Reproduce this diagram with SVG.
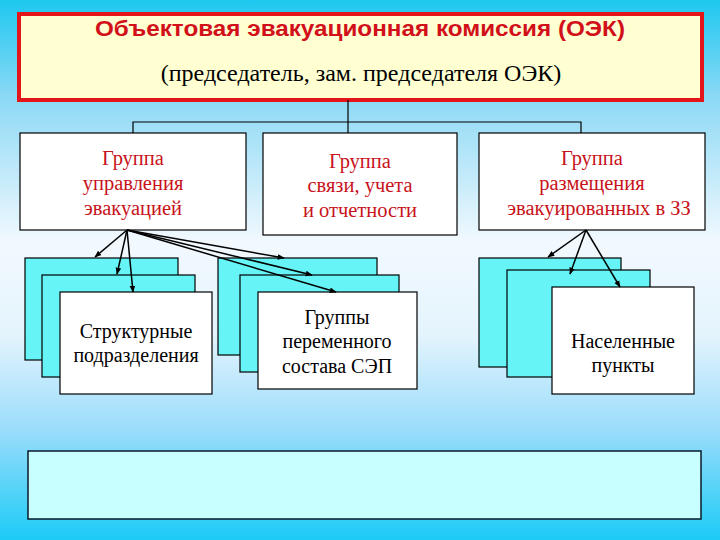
<svg xmlns="http://www.w3.org/2000/svg" width="720" height="540" viewBox="0 0 720 540">
<defs>
<linearGradient id="bg" x1="0" y1="0" x2="0" y2="1">
<stop offset="0" stop-color="#1ec8f0"/>
<stop offset="0.18" stop-color="#8cd9f5"/>
<stop offset="0.45" stop-color="#f2f9fe"/>
<stop offset="0.62" stop-color="#e4f4fd"/>
<stop offset="0.8" stop-color="#98dcfb"/>
<stop offset="1" stop-color="#1ccbf6"/>
</linearGradient>
<marker id="ah" viewBox="0 0 10 10" refX="9" refY="5" markerWidth="7" markerHeight="7" orient="auto" markerUnits="userSpaceOnUse">
<path d="M0,1 L10,5 L0,9 z" fill="#000"/>
</marker>
<style>
.box{fill:#fff;stroke:#000;stroke-width:1.2}
.cy{fill:#66f4f6;stroke:#000;stroke-width:1.2}
.sf{font-family:"Liberation Serif","Times New Roman",Times,"DejaVu Serif",serif}
.rt{font-size:20.5px;fill:#c8121a;text-anchor:middle}
.bt{font-size:20px;fill:#000;text-anchor:middle}
.ln{stroke:#000;stroke-width:1.2;fill:none}
.ar{stroke:#000;stroke-width:1.5;fill:none;marker-end:url(#ah)}
</style>
</defs>
<rect width="720" height="540" fill="url(#bg)"/>
<g id="oek">
<rect x="19" y="14" width="683" height="86" fill="#ffffd2" stroke="#e3141a" stroke-width="4"/>
<text x="360" y="36" text-anchor="middle" font-family="'Liberation Sans',Arial,sans-serif" font-weight="bold" font-size="22" fill="#d2101a" textLength="530" lengthAdjust="spacingAndGlyphs">Объектовая  эвакуационная комиссия (ОЭК)</text>
<text class="sf" x="361" y="81" text-anchor="middle" font-size="24" fill="#000">(председатель, зам. председателя ОЭК)</text>
</g>
<g id="g-upr">
<rect class="box" x="20" y="133" width="226" height="97"/>
<text class="rt sf" x="133" y="165">Группа</text>
<text class="rt sf" x="133" y="190">управления</text>
<text class="rt sf" x="133" y="215">эвакуацией</text>
</g>
<g id="g-svyazi">
<rect class="box" x="263" y="133" width="194" height="102"/>
<text class="rt sf" x="360" y="168">Группа</text>
<text class="rt sf" x="360" y="192">связи, учета</text>
<text class="rt sf" x="360" y="217">и отчетности</text>
</g>
<g id="g-razm">
<rect class="box" x="479" y="133" width="226" height="97"/>
<text class="rt sf" x="592" y="165">Группа</text>
<text class="rt sf" x="592" y="190">размещения</text>
<text class="rt sf" x="599" y="215">эвакуированных в ЗЗ</text>
</g>
<g id="s-struct">
<rect class="cy" x="25" y="258" width="153" height="102"/>
<rect class="cy" x="42" y="275" width="153" height="102"/>
<rect class="box" x="60" y="292" width="152" height="102"/>
<text class="bt sf" x="136" y="338">Структурные</text>
<text class="bt sf" x="136" y="362">подразделения</text>
</g>
<g id="s-sep">
<rect class="cy" x="218" y="258" width="159" height="97"/>
<rect class="cy" x="240" y="275" width="159" height="97"/>
<rect class="box" x="258" y="292" width="159" height="97"/>
<text class="bt sf" x="337" y="324">Группы</text>
<text class="bt sf" x="337" y="348">переменного</text>
<text class="bt sf" x="337" y="373">состава  СЭП</text>
</g>
<g id="s-np">
<rect class="cy" x="479" y="258" width="142" height="109"/>
<rect class="cy" x="507" y="270" width="143" height="107"/>
<rect class="box" x="552" y="287" width="142" height="107"/>
<text class="bt sf" x="623" y="348">Населенные</text>
<text class="bt sf" x="623" y="372">пункты</text>
</g>
<g id="bottom">
<rect x="28" y="451" width="673" height="68" fill="#c8ffff" stroke="#0a1a2a" stroke-width="1.5"/>
</g>
<g id="connectors">
<path class="ln" d="M348,100 V133 M133,133 V122 H581 V133"/>
<line class="ar" x1="127" y1="230" x2="95" y2="257"/>
<line class="ar" x1="127" y1="230" x2="117" y2="274"/>
<line class="ar" x1="127" y1="230" x2="133" y2="292"/>
<line class="ar" x1="127" y1="230" x2="284" y2="258"/>
<line class="ar" x1="127" y1="230" x2="312" y2="275"/>
<line class="ar" x1="127" y1="230" x2="336" y2="292"/>
<line class="ar" x1="586" y1="230" x2="548" y2="257"/>
<line class="ar" x1="586" y1="230" x2="570" y2="274"/>
<line class="ar" x1="586" y1="230" x2="620" y2="287"/>
</g>
</svg>
